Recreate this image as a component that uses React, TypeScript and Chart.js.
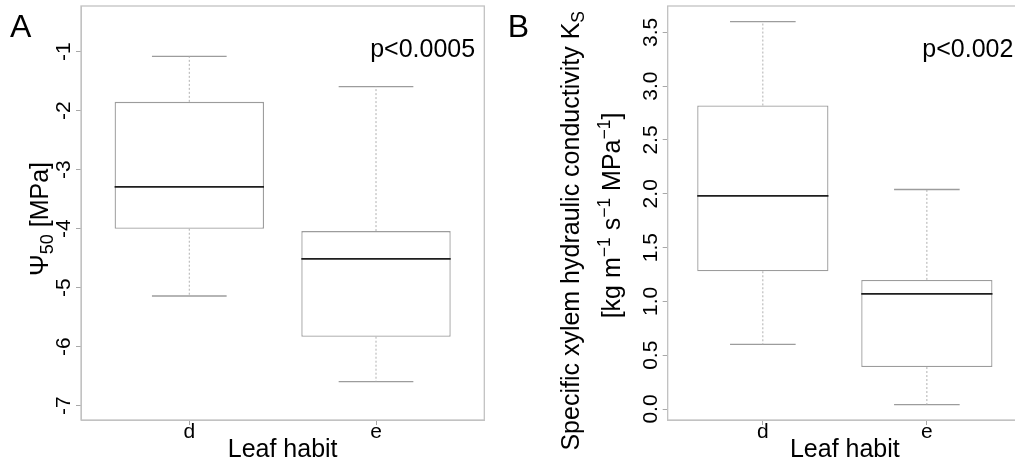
import React, { useEffect, useRef } from "react";
import { Chart, registerables } from "chart.js";

Chart.register(...registerables);

const FONT = "'Liberation Sans', Arial, Helvetica, sans-serif";

// ---------- data ----------
const categories = ["d", "e"];

// Panel A: Psi50 [MPa]
const aWhiskerLow = [-5.14, -6.59];
const aQ1 = [-4.0, -5.83];
const aMedian = [-3.29, -4.51];
const aQ3 = [-1.85, -4.04];
const aWhiskerHigh = [-1.08, -1.59];
const aYTicks = [-7, -6, -5, -4, -3, -2, -1];
const aYTickLabels = ["-7", "-6", "-5", "-4", "-3", "-2", "-1"];
const aYRange = [-7.242, -0.225];
const aPValue = "p<0.0005";

// Panel B: specific xylem hydraulic conductivity Ks
const bWhiskerLow = [0.6, 0.04];
const bQ1 = [1.28, 0.39];
const bMedian = [1.98, 1.07];
const bQ3 = [2.82, 1.2];
const bWhiskerHigh = [3.6, 2.04];
const bYTicks = [0, 0.5, 1, 1.5, 2, 2.5, 3, 3.5];
const bYTickLabels = ["0.0", "0.5", "1.0", "1.5", "2.0", "2.5", "3.0", "3.5"];
const bYRange = [-0.102, 3.745];
const bPValue = "p<0.002";

const xRange = [0.42, 2.58];
const xLabel = "Leaf habit";

// ---------- styles ----------
const BOX = "#9c9c9c";
const FRAME = "#c2c2c2";
const MED = "#1e1e1e";
const TICK_FONT = 21;

type Seg = { t: string; size: number; dy?: number };
type TitleLine = { segs: Seg[]; baselineX: number; centerY: number };

function drawRotatedRich(ctx: CanvasRenderingContext2D, segs: Seg[], bx: number, cy: number) {
  ctx.save();
  ctx.translate(bx, cy);
  ctx.rotate(-Math.PI / 2);
  ctx.textBaseline = "alphabetic";
  ctx.textAlign = "left";
  ctx.fillStyle = "#000";
  let total = 0;
  for (const s of segs) {
    ctx.font = `${s.size}px ${FONT}`;
    total += ctx.measureText(s.t).width;
  }
  let x = -total / 2;
  for (const s of segs) {
    ctx.font = `${s.size}px ${FONT}`;
    ctx.fillText(s.t, x, s.dy || 0);
    x += ctx.measureText(s.t).width;
  }
  ctx.restore();
}

function buildDatasets(low: number[], q1: number[], med: number[], q3: number[], high: number[]) {
  const xs = categories.map((_, i) => i + 1);
  const ds: any[] = [];
  ds.push({
    type: "bar",
    data: xs.map((x, i) => ({ x, y: [q1[i], q3[i]] })),
    backgroundColor: "#ffffff",
    borderColor: BOX,
    borderWidth: 1.3,
    borderSkipped: false,
    barPercentage: 0.8,
    categoryPercentage: 1,
    order: 3,
  });
  const line = (data: any[], color: string, width: number, dash: number[], order: number) => ({
    type: "line",
    data,
    borderColor: color,
    borderWidth: width,
    borderDash: dash,
    pointRadius: 0,
    fill: false,
    tension: 0,
    order,
  });
  xs.forEach((x, i) => {
    ds.push(line([{ x, y: q3[i] }, { x, y: high[i] }], "#b0b0b0", 1, [2, 2], 2));
    ds.push(line([{ x, y: q1[i] }, { x, y: low[i] }], "#b0b0b0", 1, [2, 2], 2));
    ds.push(line([{ x: x - 0.2, y: high[i] }, { x: x + 0.2, y: high[i] }], BOX, 1.3, [], 2));
    ds.push(line([{ x: x - 0.2, y: low[i] }, { x: x + 0.2, y: low[i] }], BOX, 1.3, [], 2));
    ds.push(line([{ x: x - 0.4, y: med[i] }, { x: x + 0.4, y: med[i] }], MED, 1.8, [], 1));
  });
  return ds;
}

type PanelProps = {
  left: number;
  width: number;
  canvasWidth: number;
  area: { left: number; right: number; top: number; bottom: number };
  letter: string;
  letterX: number;
  pValue: string;
  low: number[];
  q1: number[];
  med: number[];
  q3: number[];
  high: number[];
  yRange: number[];
  yTicks: number[];
  yTickLabels: string[];
  titles: TitleLine[];
};

function Panel(p: PanelProps) {
  const ref = useRef<HTMLCanvasElement | null>(null);
  useEffect(() => {
    if (!ref.current) return;
    const H = 463;
    const deco = {
      id: "deco",
      afterDraw(chart: any) {
        const ctx = chart.ctx as CanvasRenderingContext2D;
        const ca = chart.chartArea;
        const ys = chart.scales.y;
        const xs = chart.scales.x;
        // frame
        ctx.save();
        ctx.strokeStyle = FRAME;
        ctx.lineWidth = 1.3;
        ctx.strokeRect(ca.left, ca.top, ca.right - ca.left, ca.bottom - ca.top);
        ctx.restore();
        // y tick labels (rotated, R style)
        ctx.save();
        ctx.fillStyle = "#000";
        ctx.font = `${TICK_FONT}px ${FONT}`;
        ctx.textAlign = "center";
        ctx.textBaseline = "alphabetic";
        p.yTicks.forEach((v, i) => {
          const y = ys.getPixelForValue(v);
          ctx.save();
          ctx.translate(ca.left - 11, y);
          ctx.rotate(-Math.PI / 2);
          ctx.fillText(p.yTickLabels[i], 0, 0);
          ctx.restore();
        });
        ctx.restore();
        // axis titles
        p.titles.forEach((t) => drawRotatedRich(ctx, t.segs, t.baselineX, t.centerY));
        // panel letter
        ctx.save();
        ctx.fillStyle = "#000";
        ctx.font = `32px ${FONT}`;
        ctx.textAlign = "left";
        ctx.textBaseline = "alphabetic";
        ctx.fillText(p.letter, p.letterX, 36.7);
        // p value
        ctx.font = `25px ${FONT}`;
        ctx.textAlign = "center";
        ctx.fillText(p.pValue, xs.getPixelForValue(2.25), ca.top + 50.5);
        ctx.restore();
      },
    };
    const chart = new Chart(ref.current, {
      type: "scatter",
      data: { datasets: buildDatasets(p.low, p.q1, p.med, p.q3, p.high) as any },
      options: {
        animation: false,
        responsive: false,
        maintainAspectRatio: false,
        layout: {
          padding: { left: 0, top: p.area.top, right: p.canvasWidth - p.area.right, bottom: 0 },
        },
        plugins: { legend: { display: false }, tooltip: { enabled: false } },
        scales: {
          x: {
            type: "linear",
            min: xRange[0],
            max: xRange[1],
            offset: false,
            afterBuildTicks: (s: any) => {
              s.ticks = categories.map((_, i) => ({ value: i + 1 }));
            },
            afterFit: (s: any) => {
              s.height = H - p.area.bottom;
            },
            grid: { drawOnChartArea: false, drawTicks: true, tickLength: 5, color: "#a8a8a8", offset: false },
            border: { display: true, color: FRAME },
            ticks: {
              autoSkip: false,
              maxRotation: 0,
              minRotation: 0,
              padding: -3,
              color: "#000",
              font: { family: FONT, size: TICK_FONT, lineHeight: 1 },
              callback: (v: any) => categories[Math.round(Number(v)) - 1] ?? "",
            },
            title: {
              display: true,
              text: xLabel,
              color: "#000",
              font: { family: FONT, size: 25, lineHeight: 1 },
              padding: { top: 0, bottom: 0 },
            },
          },
          y: {
            type: "linear",
            min: p.yRange[0],
            max: p.yRange[1],
            afterBuildTicks: (s: any) => {
              s.ticks = p.yTicks.map((v) => ({ value: v }));
            },
            afterFit: (s: any) => {
              s.width = p.area.left;
            },
            grid: { drawOnChartArea: false, drawTicks: true, tickLength: 5, color: "#a8a8a8" },
            border: { display: true, color: FRAME },
            ticks: { display: false },
          },
        },
      } as any,
      plugins: [deco],
    });
    return () => chart.destroy();
  }, []);
  return (
    <div
      style={{
        position: "absolute",
        left: p.left,
        top: 0,
        width: p.width,
        height: 463,
        overflow: "hidden",
        background: "#fff",
      }}
    >
      <canvas
        ref={ref}
        width={p.canvasWidth}
        height={463}
        style={{ display: "block", width: p.canvasWidth, height: 463 }}
      />
    </div>
  );
}

export default function App() {
  const titlesA: TitleLine[] = [
    {
      segs: [
        { t: "Ψ", size: 26 },
        { t: "50", size: 18, dy: 5 },
        { t: " [MPa]", size: 25 },
      ],
      baselineX: 48,
      centerY: 219,
    },
  ];
  const titlesB: TitleLine[] = [
    {
      segs: [
        { t: "Specific xylem hydraulic conductivity K", size: 25 },
        { t: "S", size: 17.5, dy: 5 },
      ],
      baselineX: 74.3,
      centerY: 230.8,
    },
    {
      segs: [
        { t: "[kg m", size: 25 },
        { t: "−1", size: 17.5, dy: -10 },
        { t: " s", size: 25 },
        { t: "−1", size: 17.5, dy: -10 },
        { t: " MPa", size: 25 },
        { t: "−1", size: 17.5, dy: -10 },
        { t: "]", size: 25 },
      ],
      baselineX: 115,
      centerY: 215.5,
    },
  ];
  return (
    <div
      style={{
        position: "absolute",
        left: 0,
        top: 0,
        width: 1015,
        height: 463,
        overflow: "hidden",
        background: "#fff",
      }}
    >
      <Panel
        left={0}
        width={505}
        canvasWidth={505}
        area={{ left: 81, right: 484.3, top: 6, bottom: 420 }}
        letter="A"
        letterX={10}
        pValue={aPValue}
        low={aWhiskerLow}
        q1={aQ1}
        med={aMedian}
        q3={aQ3}
        high={aWhiskerHigh}
        yRange={aYRange}
        yTicks={aYTicks}
        yTickLabels={aYTickLabels}
        titles={titlesA}
      />
      <Panel
        left={505}
        width={510}
        canvasWidth={540}
        area={{ left: 162.7, right: 517, top: 6, bottom: 420 }}
        letter="B"
        letterX={2.7}
        pValue={bPValue}
        low={bWhiskerLow}
        q1={bQ1}
        med={bMedian}
        q3={bQ3}
        high={bWhiskerHigh}
        yRange={bYRange}
        yTicks={bYTicks}
        yTickLabels={bYTickLabels}
        titles={titlesB}
      />
    </div>
  );
}
